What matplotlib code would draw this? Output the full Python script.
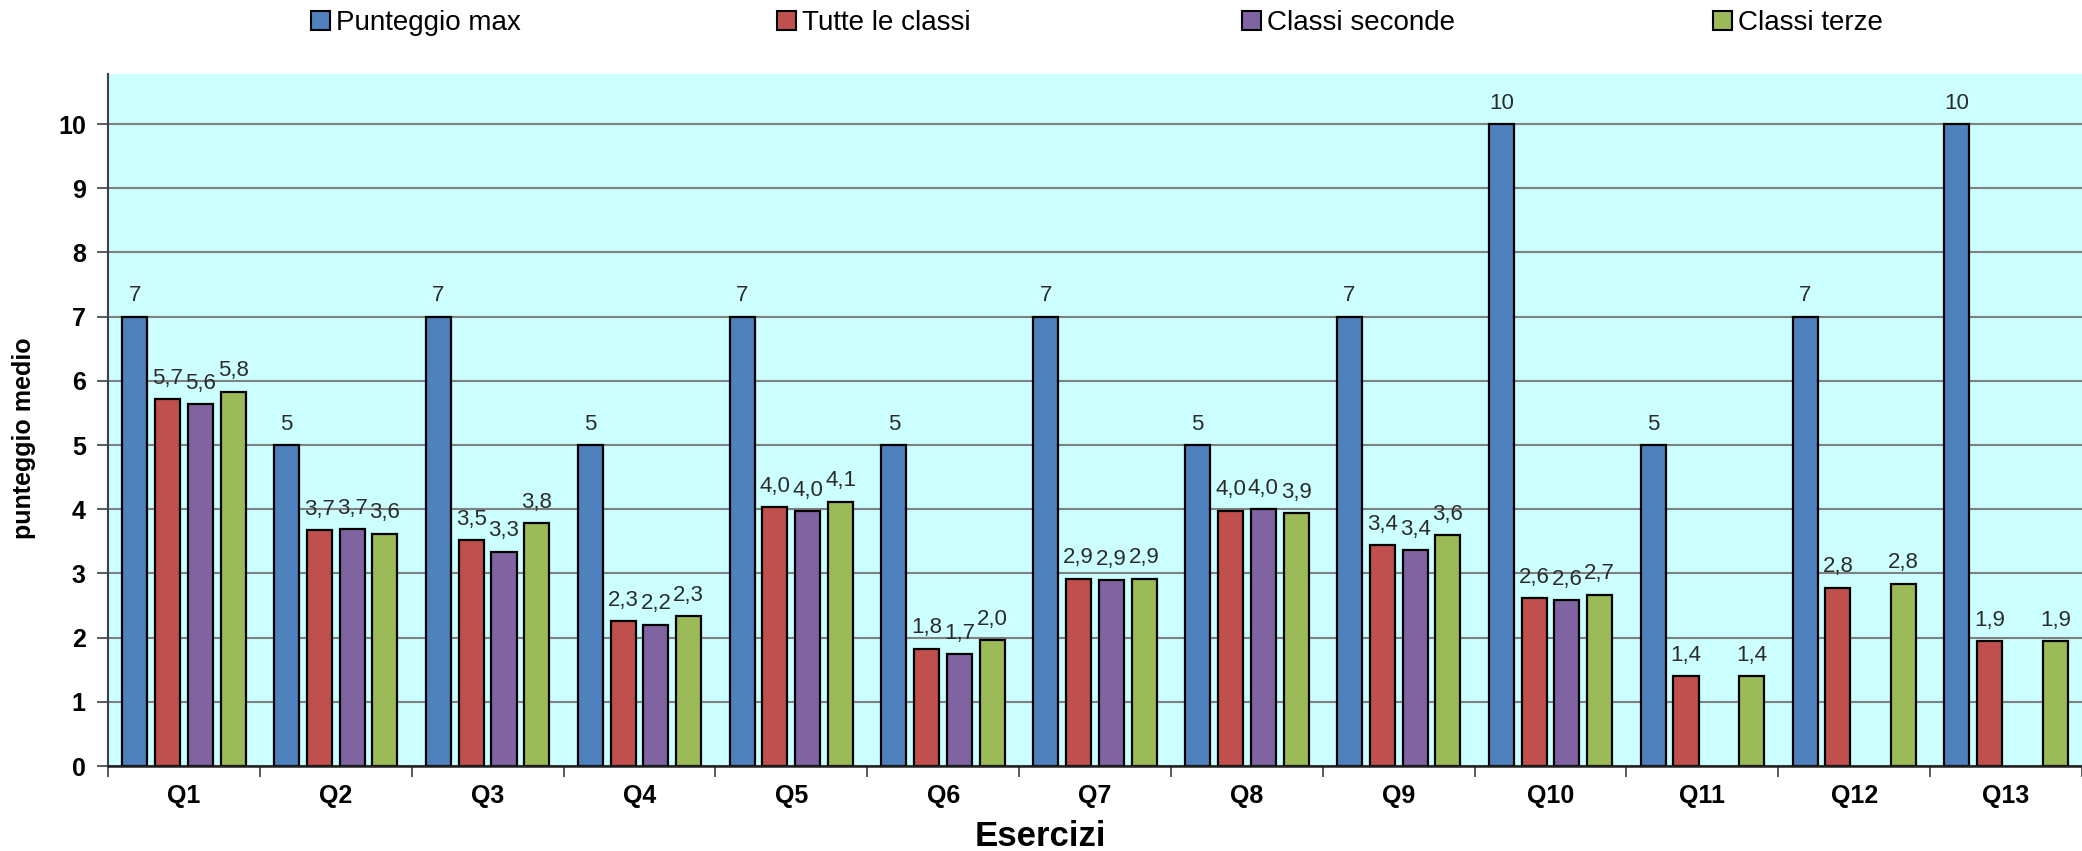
import matplotlib
matplotlib.use("Agg")
import matplotlib.pyplot as plt
import numpy as np
from matplotlib.patches import Patch

plt.rcParams['font.family'] = ['Liberation Sans', 'DejaVu Sans']

categories = ["Q1", "Q2", "Q3", "Q4", "Q5", "Q6", "Q7", "Q8", "Q9", "Q10", "Q11", "Q12", "Q13"]
punteggio_max = [7, 5, 7, 5, 7, 5, 7, 5, 7, 10, 5, 7, 10]
tutte_le_classi = [5.72, 3.67, 3.52, 2.26, 4.03, 1.83, 2.92, 3.98, 3.44, 2.62, 1.40, 2.78, 1.94]
classi_seconde = [5.64, 3.69, 3.34, 2.20, 3.97, 1.74, 2.90, 4.00, 3.36, 2.58, np.nan, np.nan, np.nan]
classi_terze = [5.83, 3.62, 3.78, 2.34, 4.12, 1.96, 2.92, 3.94, 3.60, 2.67, 1.40, 2.84, 1.94]

series_names = ["Punteggio max", "Tutte le classi", "Classi seconde", "Classi terze"]
series_values = [punteggio_max, tutte_le_classi, classi_seconde, classi_terze]
colors = ["#4F81BD", "#C0504D", "#8064A2", "#9BBB59"]

W, H = 2082, 851
fig = plt.figure(figsize=(W / 100, H / 100), dpi=100)
ax = fig.add_axes([108 / W, 85 / H, (W - 108) / W, 692 / H])
ax.set_facecolor("#CCFFFF")

x = np.arange(len(categories))
step = 0.216
width = 0.165
offsets = np.array([-1.5, -0.5, 0.5, 1.5]) * step

handles = []
for k, (vals, name, col, off) in enumerate(zip(series_values, series_names, colors, offsets)):
    vals = np.array(vals, dtype=float)
    ax.bar(x + off, vals, width=width, color=col, edgecolor="black",
           linewidth=1.6, zorder=3, label=name)
    handles.append(Patch(facecolor=col, edgecolor="black", linewidth=1.5))
    for xi, v in zip(x + off, vals):
        if np.isnan(v):
            continue
        if k == 0:
            txt = f"{int(round(v))}"
        else:
            txt = f"{v:.1f}".replace(".", ",")
        ax.annotate(txt, (xi, v), xytext=(0, 11), textcoords="offset points",
                    ha="center", va="baseline", fontsize=16, color="#2b2b2b",
                    zorder=4)

ax.set_ylim(0, 10.78)
ax.set_xlim(-0.5, 12.38)
ax.set_yticks(range(0, 11))
ax.yaxis.grid(True, color="#808080", linewidth=1.5, zorder=1)
ax.set_axisbelow(True)

for lab in ax.get_yticklabels():
    lab.set_fontweight("bold")
ax.tick_params(axis="y", labelsize=18, length=8, width=1.2, color="#404040", pad=8)

ax.set_xticks(np.arange(-0.5, 12.6, 1.0))
ax.set_xticklabels([])
ax.tick_params(axis="x", which="major", length=8, width=1.2, color="#404040", direction="out")
ax.set_xticks(x, minor=True)
ax.set_xticklabels(categories, minor=True, fontsize=18, fontweight="bold")
ax.tick_params(axis="x", which="minor", length=0, pad=13)

for s in ["top", "right"]:
    ax.spines[s].set_visible(False)
ax.spines["left"].set_color("#404040")
ax.spines["left"].set_linewidth(1.5)
ax.spines["bottom"].set_color("#202020")
ax.spines["bottom"].set_linewidth(1.8)
ax.spines["bottom"].set_zorder(5)

fig.text(1040 / W, 1 - 837 / H, "Esercizi", ha="center", va="center",
         fontsize=25, fontweight="bold")
fig.text(24 / W, 0.485, "punteggio medio", ha="center", va="center",
         rotation=90, fontsize=18, fontweight="bold")

leg_x = [311, 777, 1242, 1713]
for h, name, lx in zip(handles, series_names, leg_x):
    fig.legend([h], [name], loc="center left", bbox_to_anchor=(lx / W, 1 - 23 / H),
               frameon=False, fontsize=20, handlelength=0.7, handleheight=0.7,
               handletextpad=0.2, borderpad=0, borderaxespad=0)

fig.savefig("out.png", dpi=100)
